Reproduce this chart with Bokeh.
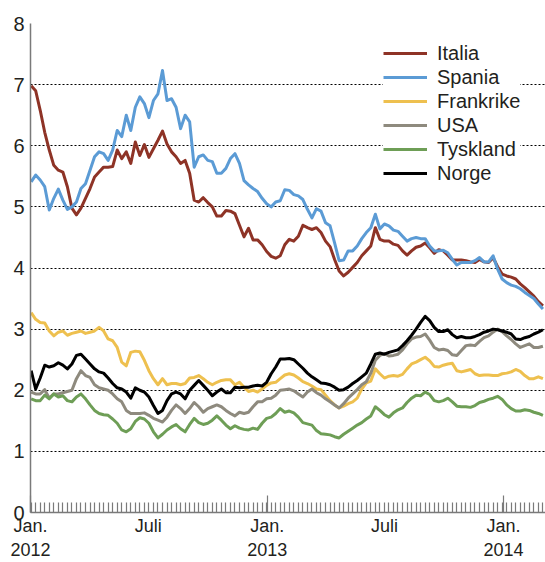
import pandas as pd
from bokeh.plotting import figure
from bokeh.models import Range1d, FixedTicker, LinearAxis, Legend, LegendItem, Grid
from bokeh.embed import file_html
from bokeh.resources import INLINE

# ---- data (weekly, from 2 Jan 2012) ----
week_start = "2012-01-02"
n_weeks = 114

italia = [6.98, 6.90, 6.58, 6.22, 5.93, 5.68, 5.60, 5.57, 5.33, 4.98,
          4.87, 4.98, 5.14, 5.30, 5.49, 5.57, 5.65, 5.65, 5.66, 5.93,
          5.79, 5.90, 5.71, 6.06, 5.84, 6.02, 5.81, 5.95, 6.09, 6.24,
          6.03, 5.90, 5.82, 5.71, 5.76, 5.55, 5.11, 5.08, 5.15, 5.07,
          5.00, 4.85, 4.85, 4.94, 4.93, 4.89, 4.70, 4.51, 4.65, 4.46,
          4.46, 4.38, 4.27, 4.19, 4.16, 4.20, 4.38, 4.47, 4.44, 4.52,
          4.70, 4.66, 4.63, 4.66, 4.58, 4.44, 4.35, 4.14, 3.95, 3.87,
          3.93, 4.01, 4.09, 4.20, 4.28, 4.36, 4.66, 4.47, 4.44, 4.44,
          4.39, 4.37, 4.28, 4.21, 4.28, 4.34, 4.36, 4.41, 4.33, 4.24,
          4.30, 4.28, 4.21, 4.13, 4.13, 4.13, 4.12, 4.10, 4.09, 4.14,
          4.10, 4.09, 4.17, 4.02, 3.90, 3.87, 3.85, 3.82, 3.74, 3.68,
          3.61, 3.54, 3.45, 3.38]

spania = [5.41, 5.52, 5.44, 5.33, 4.95, 5.14, 5.29, 5.11, 4.96, 5.00,
          5.08, 5.30, 5.38, 5.60, 5.82, 5.90, 5.87, 5.76, 5.93, 6.25,
          6.15, 6.50, 6.25, 6.63, 6.80, 6.69, 6.46, 6.74, 6.85, 7.23,
          6.74, 6.77, 6.63, 6.28, 6.50, 6.39, 5.65, 5.82, 5.85, 5.76,
          5.74, 5.55, 5.55, 5.63, 5.79, 5.87, 5.71, 5.43, 5.36, 5.30,
          5.25, 5.14, 5.05, 5.00, 5.08, 5.10, 5.28, 5.27, 5.20, 5.18,
          5.12, 4.96, 4.82, 4.97, 4.93, 4.74, 4.69, 4.41, 4.12, 4.13,
          4.28, 4.28, 4.36, 4.48, 4.58, 4.66, 4.88, 4.64, 4.72, 4.69,
          4.62, 4.60, 4.52, 4.44, 4.48, 4.50, 4.48, 4.48, 4.36, 4.28,
          4.28, 4.29, 4.25, 4.14, 4.05, 4.09, 4.09, 4.09, 4.12, 4.17,
          4.10, 4.10, 4.20, 3.98, 3.82, 3.76, 3.72, 3.70, 3.66, 3.60,
          3.55, 3.50, 3.41, 3.33]

frankrike = [3.27, 3.16, 3.11, 3.10, 2.97, 2.89, 2.95, 2.97, 2.90, 2.93,
             2.95, 2.97, 2.93, 2.95, 2.97, 3.03, 2.97, 2.84, 2.81, 2.70,
             2.46, 2.40, 2.62, 2.64, 2.63, 2.49, 2.32, 2.19, 2.09, 2.19,
             2.09, 2.11, 2.11, 2.09, 2.11, 2.20, 2.21, 2.24, 2.19, 2.13,
             2.09, 2.13, 2.16, 2.17, 2.17, 2.09, 2.13, 2.05, 1.98, 2.00,
             1.97, 2.02, 2.08, 2.12, 2.13, 2.19, 2.25, 2.27, 2.25, 2.20,
             2.14, 2.11, 2.07, 2.02, 2.01, 1.92, 1.83, 1.76, 1.71, 1.74,
             1.78, 1.81, 1.87, 2.02, 2.12, 2.15, 2.35, 2.27, 2.20, 2.23,
             2.24, 2.23, 2.26, 2.35, 2.43, 2.46, 2.50, 2.54, 2.48, 2.39,
             2.38, 2.41, 2.43, 2.44, 2.32, 2.30, 2.32, 2.34, 2.27, 2.24,
             2.25, 2.25, 2.24, 2.24, 2.27, 2.28, 2.30, 2.34, 2.31, 2.24,
             2.19, 2.19, 2.22, 2.19]

usa = [1.97, 1.94, 1.94, 2.01, 1.87, 1.94, 1.94, 1.96, 1.98, 2.00,
       2.19, 2.32, 2.24, 2.21, 2.09, 2.04, 2.02, 2.00, 1.94, 1.86,
       1.81, 1.67, 1.62, 1.62, 1.62, 1.63, 1.59, 1.54, 1.51, 1.48,
       1.56, 1.67, 1.76, 1.70, 1.62, 1.70, 1.80, 1.73, 1.64, 1.70,
       1.73, 1.76, 1.73, 1.67, 1.62, 1.58, 1.64, 1.62, 1.64, 1.73,
       1.81, 1.81, 1.86, 1.87, 1.92, 2.00, 2.01, 2.02, 1.99, 1.94,
       1.89, 1.97, 2.02, 1.96, 1.92, 1.86, 1.81, 1.76, 1.71, 1.78,
       1.87, 1.94, 2.01, 2.09, 2.14, 2.28, 2.49, 2.57, 2.60, 2.56,
       2.57, 2.59, 2.66, 2.76, 2.84, 2.87, 2.88, 2.92, 2.82, 2.70,
       2.66, 2.67, 2.65, 2.58, 2.57, 2.65, 2.73, 2.74, 2.73, 2.80,
       2.86, 2.89, 2.95, 3.00, 2.96, 2.89, 2.83, 2.76, 2.70, 2.73,
       2.76, 2.70, 2.70, 2.72]

tyskland = [1.86, 1.83, 1.83, 1.92, 1.86, 1.94, 1.89, 1.91, 1.83, 1.81,
            1.89, 1.94, 1.86, 1.76, 1.67, 1.62, 1.60, 1.59, 1.53, 1.46,
            1.35, 1.32, 1.37, 1.49, 1.55, 1.53, 1.46, 1.32, 1.22, 1.28,
            1.35, 1.40, 1.44, 1.37, 1.32, 1.44, 1.54, 1.47, 1.44, 1.46,
            1.51, 1.58, 1.51, 1.43, 1.37, 1.42, 1.38, 1.36, 1.35, 1.38,
            1.36, 1.46, 1.54, 1.56, 1.62, 1.70, 1.64, 1.66, 1.63, 1.56,
            1.47, 1.45, 1.43, 1.34, 1.29, 1.28, 1.27, 1.24, 1.22, 1.28,
            1.33, 1.38, 1.43, 1.47, 1.53, 1.58, 1.73, 1.67, 1.60, 1.56,
            1.63, 1.68, 1.71, 1.80, 1.87, 1.92, 1.91, 1.97, 1.93, 1.83,
            1.81, 1.83, 1.87, 1.81, 1.74, 1.73, 1.73, 1.72, 1.75, 1.80,
            1.82, 1.85, 1.87, 1.90, 1.85, 1.76, 1.70, 1.66, 1.66, 1.68,
            1.67, 1.64, 1.62, 1.59]

norge = [2.32, 2.02, 2.20, 2.41, 2.38, 2.40, 2.45, 2.41, 2.35, 2.43,
         2.57, 2.59, 2.51, 2.43, 2.35, 2.30, 2.28, 2.20, 2.11, 2.04,
         2.02, 1.97, 1.87, 2.04, 2.00, 1.97, 1.89, 1.75, 1.62, 1.67,
         1.83, 1.94, 1.97, 1.94, 1.86, 2.00, 2.08, 2.16, 2.08, 2.00,
         1.91, 1.97, 2.02, 1.96, 1.96, 2.05, 2.04, 2.05, 2.05, 2.07,
         2.08, 2.07, 2.13, 2.27, 2.38, 2.51, 2.51, 2.52, 2.50, 2.43,
         2.36, 2.28, 2.22, 2.17, 2.12, 2.11, 2.09, 2.05, 2.00, 2.01,
         2.05, 2.11, 2.16, 2.22, 2.28, 2.43, 2.59, 2.61, 2.59, 2.62,
         2.64, 2.66, 2.73, 2.81, 2.90, 3.00, 3.11, 3.21, 3.14, 3.03,
         2.96, 2.96, 2.99, 2.91, 2.86, 2.88, 2.86, 2.86, 2.88, 2.91,
         2.95, 2.97, 3.00, 2.99, 2.97, 2.95, 2.92, 2.84, 2.83, 2.86,
         2.88, 2.92, 2.95, 2.99]

series_names = ["Italia", "Spania", "Frankrike", "USA", "Tyskland", "Norge"]
series_values = [italia, spania, frankrike, usa, tyskland, norge]
series_colors = ["#8E3326", "#5B9BD5", "#EEC04F", "#8E8A7E", "#6E9E56", "#000000"]

tick_dates = ["2012-01-01", "2012-07-01", "2013-01-01", "2013-07-01", "2014-01-01"]
tick_labels = ["Jan.\n2012", "Juli", "Jan.\n2013", "Juli", "Jan.\n2014"]
year_dates = ["2012-01-01", "2013-01-01", "2014-01-01"]
y_ticks = [0, 1, 2, 3, 4, 5, 6, 7, 8]
grid_ticks = [1, 2, 3, 4, 5, 6, 7, 8]

# ---- conversions ----
origin = pd.Timestamp("2012-01-01")
weeks = pd.date_range(week_start, periods=n_weeks, freq="7D")
days = [int((d - origin).days) for d in weeks]
tick_days = [int((pd.Timestamp(d) - origin).days) for d in tick_dates]
year_days = [int((pd.Timestamp(d) - origin).days) for d in year_dates]

FONT = "Liberation Sans"
TXT = "#231f20"
AXC = "#7a7a7a"

p = figure(width=545, height=562,
           x_range=Range1d(0, 796), y_range=Range1d(0, 8),
           x_axis_type=None, y_axis_type=None,
           output_backend="svg", toolbar_location=None,
           min_border_left=30, min_border_right=0,
           min_border_top=23, min_border_bottom=47)
p.outline_line_color = None
p.background_fill_color = "white"
p.border_fill_color = "white"

# y axis
yax = LinearAxis(ticker=FixedTicker(ticks=y_ticks))
yax.major_tick_in = 0
yax.major_tick_out = 0
yax.minor_tick_in = 0
yax.minor_tick_out = 0
yax.axis_line_color = AXC
yax.axis_line_width = 1.5
yax.major_label_text_font = FONT
yax.major_label_text_font_size = "20px"
yax.major_label_text_color = TXT
yax.major_label_standoff = 6
p.add_layout(yax, "left")

# x axis with tick marks (weekly minor, tall yearly)
xax1 = LinearAxis(ticker=FixedTicker(ticks=year_days, minor_ticks=days))
xax1.major_tick_in = 17
xax1.major_tick_out = 0
xax1.minor_tick_in = 10
xax1.minor_tick_out = 0
xax1.major_tick_line_color = AXC
xax1.minor_tick_line_color = AXC
xax1.major_tick_line_width = 1.2
xax1.minor_tick_line_width = 1.2
xax1.axis_line_color = AXC
xax1.axis_line_width = 1.5
xax1.major_label_text_font_size = "0px"
xax1.major_label_overrides = {d: "" for d in year_days}
xax1.major_label_standoff = 0
p.add_layout(xax1, "below")

# x axis with labels
xax2 = LinearAxis(ticker=FixedTicker(ticks=tick_days))
xax2.major_tick_in = 0
xax2.major_tick_out = 0
xax2.minor_tick_in = 0
xax2.minor_tick_out = 0
xax2.axis_line_color = None
xax2.major_label_overrides = {d: t for d, t in zip(tick_days, tick_labels)}
xax2.major_label_text_font = FONT
xax2.major_label_text_font_size = "18px"
xax2.major_label_text_color = TXT
xax2.major_label_standoff = 3
p.add_layout(xax2, "below")

grid = Grid(dimension=1, ticker=FixedTicker(ticks=grid_ticks))
grid.grid_line_color = "black"
grid.grid_line_dash = "2 2"
grid.grid_line_width = 1
p.center.append(grid)

items = []
for name, vals, col in zip(series_names, series_values, series_colors):
    r = p.line(days[:len(vals)], vals, line_color=col, line_width=3,
               line_join="round")
    items.append(LegendItem(label=name, renderers=[r]))

legend = Legend(items=items, location=(353, 327))
legend.label_text_font = FONT
legend.label_text_font_size = "20px"
legend.label_text_color = TXT
legend.glyph_width = 44
legend.glyph_height = 24
legend.label_height = 24
legend.label_standoff = 10
legend.spacing = 0
legend.padding = 5
legend.margin = 0
legend.border_line_color = None
legend.background_fill_color = "white"
legend.background_fill_alpha = 1.0
p.add_layout(legend)

open("out.html", "w").write(file_html(p, INLINE))
